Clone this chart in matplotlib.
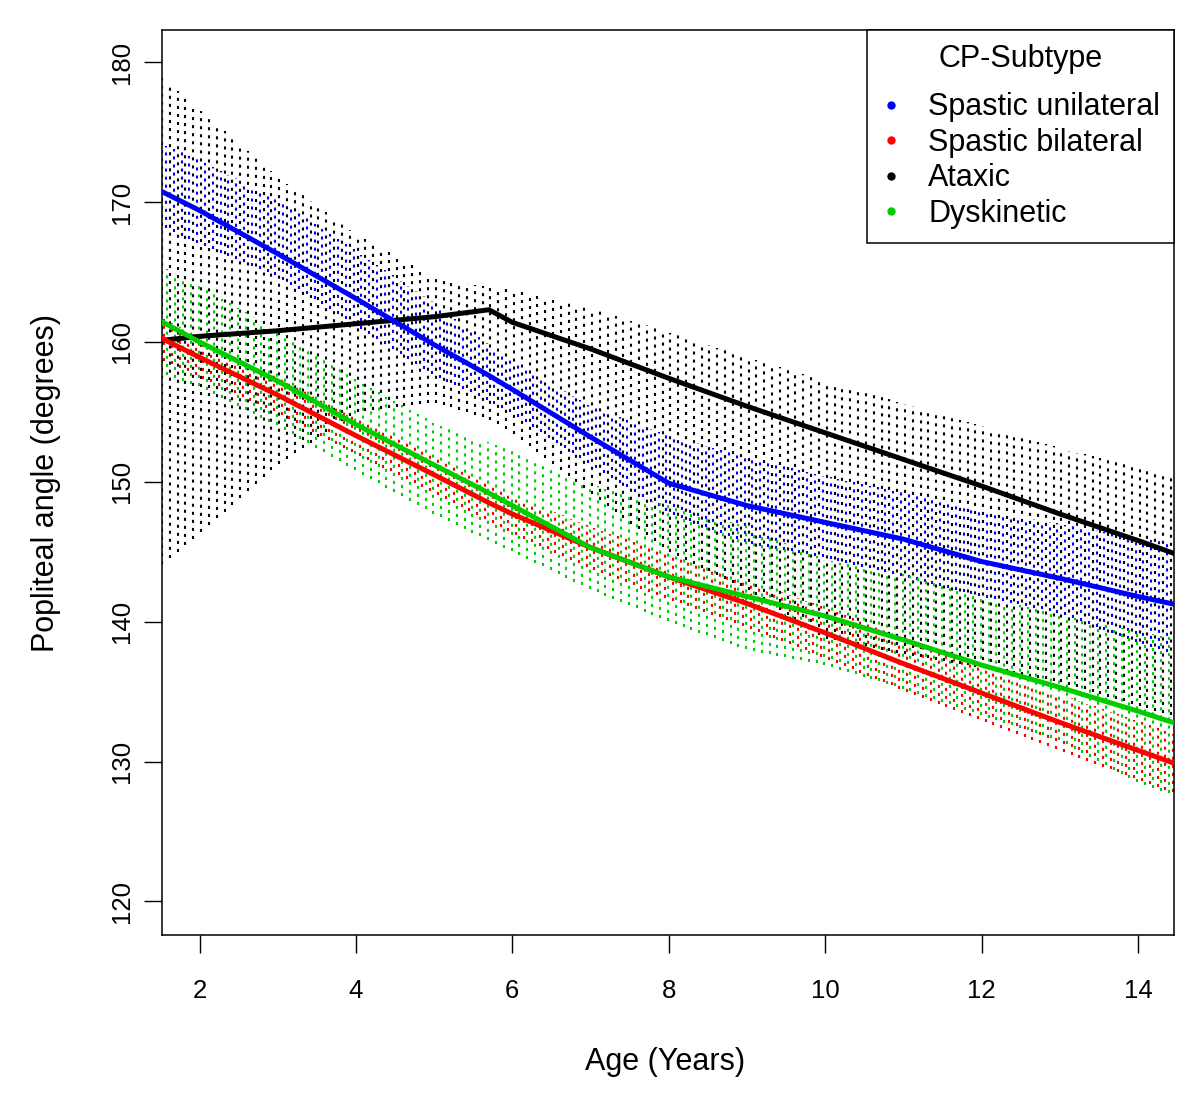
import numpy as np
import matplotlib
matplotlib.use("Agg")
import matplotlib.pyplot as plt
from matplotlib.lines import Line2D

plt.rcParams['font.family'] = ['Liberation Sans', 'DejaVu Sans']
plt.rcParams['lines.scale_dashes'] = False

# ---- data ----
age = [1.5, 2, 3, 4, 5, 5.7, 6, 7, 8, 9, 10, 11, 12, 13, 14, 14.5]

unilat_fit = [170.8, 169.4, 166.3, 163.1, 159.8, 157.6, 156.6, 153.2, 149.9, 148.3, 147.1, 145.9, 144.3, 143.1, 141.8, 141.2]
unilat_hi = [174.2, 173.0, 170.2, 166.5, 162.8, 159.8, 158.6, 155.4, 153.3, 151.8, 150.4, 149.2, 148.0, 147.0, 146.0, 145.6]
unilat_lo = [168.3, 167.0, 164.7, 161.2, 157.6, 155.8, 154.9, 151.2, 147.8, 145.6, 144.6, 143.2, 141.8, 140.6, 138.5, 137.6]

bilat_fit = [160.3, 158.9, 156.2, 153.3, 150.5, 148.5, 147.7, 145.3, 143.2, 141.3, 139.2, 137.0, 134.9, 132.8, 130.8, 129.8]
bilat_hi = [161.8, 160.3, 157.5, 154.6, 151.8, 149.9, 149.1, 146.8, 144.8, 143.0, 141.0, 138.9, 136.9, 134.8, 132.9, 131.9]
bilat_lo = [158.8, 157.5, 154.9, 152.0, 149.2, 147.2, 146.3, 143.8, 141.6, 139.6, 137.4, 135.1, 132.9, 130.8, 128.7, 127.7]

ataxic_fit = [160.1, 160.4, 160.8, 161.3, 161.8, 162.3, 161.4, 159.5, 157.4, 155.4, 153.5, 151.6, 149.7, 147.7, 145.8, 144.8]
ataxic_hi = [179.0, 176.6, 171.8, 167.7, 164.6, 163.9, 163.7, 162.4, 160.7, 158.9, 157.2, 155.6, 154.0, 152.4, 151.0, 150.3]
ataxic_lo = [144.0, 146.3, 151.2, 155.0, 155.7, 154.5, 153.5, 149.2, 145.0, 142.3, 138.8, 137.7, 136.7, 135.7, 134.0, 133.2]

dysk_fit = [161.5, 160.0, 157.2, 154.1, 151.2, 149.2, 148.3, 145.3, 143.2, 141.8, 140.4, 138.7, 136.9, 135.3, 133.6, 132.7]
dysk_hi = [165.5, 164.0, 160.8, 157.3, 154.2, 152.8, 152.2, 149.8, 148.3, 146.8, 144.4, 143.4, 141.8, 140.5, 139.3, 138.8]
dysk_lo = [157.8, 156.8, 154.0, 150.8, 147.7, 145.8, 145.0, 142.3, 140.0, 138.0, 136.9, 135.2, 133.3, 131.5, 128.5, 127.5]

labels = ["Spastic unilateral", "Spastic bilateral", "Ataxic", "Dyskinetic"]
colors = ["#0000FF", "#FF0000", "#000000", "#00CD00"]
x_ticks = [2, 4, 6, 8, 10, 12, 14]
y_ticks = [120, 130, 140, 150, 160, 170, 180]

# ---- figure ----
fig = plt.figure(figsize=(12, 10.95), dpi=100)
ax = fig.add_axes([162/1200, 1-935/1095, (1174-162)/1200, (935-30)/1095])
ax.set_xlim(1.52, 14.46)
ax.set_ylim(117.6, 182.3)

series = {
    "Ataxic": (ataxic_fit, ataxic_hi, ataxic_lo, colors[2], 0.0),
    "Spastic unilateral": (unilat_fit, unilat_hi, unilat_lo, colors[0], 0.05),
    "Spastic bilateral": (bilat_fit, bilat_hi, bilat_lo, colors[1], 0.03),
    "Dyskinetic": (dysk_fit, dysk_hi, dysk_lo, colors[3], 0.07),
}

# confidence bands drawn as vertical dotted hatching
for name in ["Ataxic", "Spastic unilateral", "Spastic bilateral", "Dyskinetic"]:
    fit, hi, lo, col, off = series[name]
    xs = np.arange(1.52 + off, 14.47, 0.1)
    ax.vlines(xs, np.interp(xs, age, lo), np.interp(xs, age, hi), colors=col,
              linewidth=1.5, linestyles=[(0, (2.2, 3.6))], zorder=2)

for name in ["Ataxic", "Spastic unilateral", "Spastic bilateral", "Dyskinetic"]:
    fit, hi, lo, col, off = series[name]
    ax.plot(age, fit, color=col, linewidth=3.6, solid_capstyle='round',
            solid_joinstyle='round', zorder=3)

ax.set_xticks(x_ticks)
ax.set_yticks(y_ticks)
ax.tick_params(axis='both', direction='out', length=13, width=1.0, labelsize=18.5)
ax.tick_params(axis='x', pad=19)
ax.tick_params(axis='y', pad=7)
for t in ax.get_yticklabels():
    t.set_rotation(90)
    t.set_va('center')

for s in ax.spines.values():
    s.set_linewidth(1.1)

ax.set_xlabel("Age (Years)", fontsize=22)
ax.xaxis.set_label_coords(0.4975, -(1062-935)/905)
ax.xaxis.label.set_va('center')
ax.set_ylabel("Popliteal angle (degrees)", fontsize=22)
ax.yaxis.set_label_coords(-(162-46)/1012, 0.5)
ax.yaxis.label.set_va('center')

handles = [Line2D([], [], linestyle='none', marker='o', markersize=5,
                  color=c) for c in colors]
leg = ax.legend(handles, labels, title="CP-Subtype", loc='upper right',
                bbox_to_anchor=(1, 1), borderaxespad=0, fontsize=22,
                title_fontsize=22, frameon=True, fancybox=False,
                edgecolor='black', framealpha=1, handlelength=0.72,
                handletextpad=0.85, labelspacing=0.18, borderpad=0.45)
leg._legend_box.sep = 0.18 * 22 + 9.5
leg.get_frame().set_linewidth(1.1)
leg.set_zorder(5)

fig.savefig("out.png", dpi=100, facecolor='white')
